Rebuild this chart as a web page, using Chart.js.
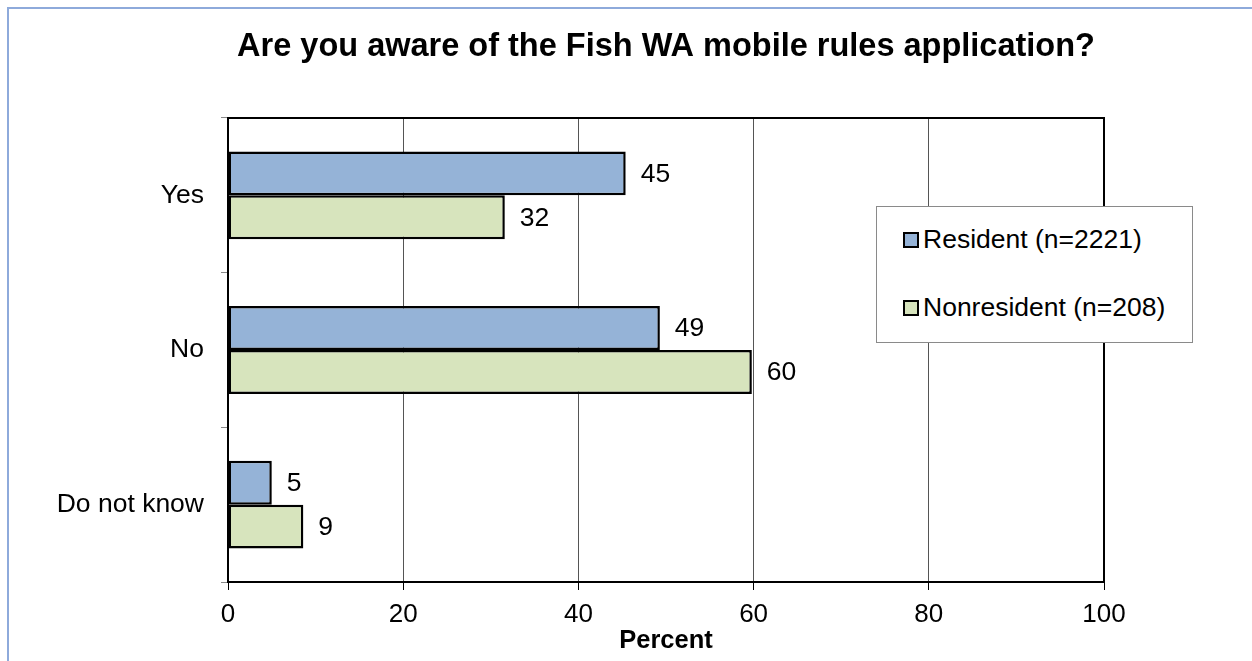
<!DOCTYPE html>
<html>
<head>
<meta charset="utf-8">
<script src="https://cdn.jsdelivr.net/npm/chart.js@4/dist/chart.umd.min.js"></script>
<style>
  html, body { margin: 0; padding: 0; background: #fff; overflow: hidden; }
  #wrap { position: relative; width: 1252px; height: 661px; }
  #frame {
    position: absolute; left: 7px; top: 7px; width: 1400px; height: 800px;
    border-left: 2px solid #8eaadb; border-top: 2px solid #8eaadb;
  }
  #chart { position: absolute; left: 0; top: 0; }
  #legend {
    position: absolute; left: 876px; top: 206px; width: 315px; height: 135px;
    border: 1.5px solid #8a8a8a; background: #fff;
    font-family: "Liberation Sans", Arial, sans-serif; font-size: 26.5px; color: #000;
  }
  .item { position: absolute; left: 26px; display: flex; align-items: center; white-space: nowrap; }
  .swatch { width: 12px; height: 12px; border: 2px solid #000; margin-right: 4px; }
</style>
</head>
<body>
<div id="wrap">
  <div id="frame"></div>
  <canvas id="chart" width="1252" height="661"></canvas>
  <div id="legend"></div>
</div>
<script>
// Data
const categories = ['Yes', 'No', 'Do not know'];
const residentValues = [45.4, 49.3, 5.0];
const nonresidentValues = [31.6, 59.8, 8.6];
const seriesLabels = ['Resident (n=2221)', 'Nonresident (n=208)'];
const seriesColours = ['#95b3d7', '#d7e4bd'];
const xMin = 0, xMax = 100, xStep = 20;

const FONT = '"Liberation Sans", Arial, sans-serif';
Chart.defaults.font.family = FONT;
Chart.defaults.color = '#000';

// value labels at the end of each bar
const valueLabels = {
  id: 'valueLabels',
  afterDatasetsDraw(chart) {
    const ctx = chart.ctx;
    ctx.save();
    ctx.font = '26.5px ' + FONT;
    ctx.fillStyle = '#000';
    ctx.textAlign = 'left';
    ctx.textBaseline = 'middle';
    chart.data.datasets.forEach((ds, i) => {
      chart.getDatasetMeta(i).data.forEach((bar, j) => {
        ctx.fillText(Math.round(ds.data[j]), bar.x + 15, bar.y + 1);
      });
    });
    ctx.restore();
  }
};

// top + right edge of the plot area
const plotFrame = {
  id: 'plotFrame',
  afterDraw(chart) {
    const { ctx, chartArea: a } = chart;
    ctx.save();
    ctx.strokeStyle = '#000';
    ctx.lineWidth = 2;
    ctx.beginPath();
    ctx.moveTo(a.left, a.top);
    ctx.lineTo(a.right, a.top);
    ctx.lineTo(a.right, a.bottom);
    ctx.stroke();
    ctx.restore();
  }
};

const chart = new Chart(document.getElementById('chart'), {
  type: 'bar',
  data: {
    labels: categories,
    datasets: [residentValues, nonresidentValues].map((vals, i) => ({
      label: seriesLabels[i],
      data: vals,
      backgroundColor: seriesColours[i],
      borderColor: '#000',
      borderWidth: 2.5,
      borderSkipped: false,
      categoryPercentage: 0.568,
      barPercentage: 1.0
    }))
  },
  options: {
    indexAxis: 'y',
    responsive: false,
    animation: false,
    layout: { padding: { left: 0, right: 148, top: 0, bottom: 0 } },
    plugins: {
      legend: { display: false },
      tooltip: { enabled: false },
      title: {
        display: true,
        fullSize: false,
        text: 'Are you aware of the Fish WA mobile rules application?',
        font: { size: 32.5, weight: 'bold' },
        color: '#000',
        padding: { top: 28, bottom: 51 }
      }
    },
    scales: {
      x: {
        min: xMin,
        max: xMax,
        afterFit: s => { s.height = 79; },
        ticks: { stepSize: xStep, font: { size: 26 }, padding: 9, color: '#000' },
        grid: { color: '#555', lineWidth: 1, tickLength: 8, tickColor: '#000' },
        border: { color: '#000', width: 2 },
        title: {
          display: true,
          text: 'Percent',
          font: { size: 25.5, weight: 'bold' },
          color: '#000',
          padding: { top: 0, bottom: 5 }
        }
      },
      y: {
        afterFit: s => { s.width = 228; },
        ticks: { font: { size: 26.5 }, padding: 17, color: '#000' },
        grid: { drawOnChartArea: false, tickLength: 7, color: '#888' },
        border: { color: '#000', width: 2 }
      }
    }
  },
  plugins: [valueLabels, plotFrame]
});

// legend box
const legend = document.getElementById('legend');
const rowTops = [17, 85];
chart.data.datasets.forEach((ds, i) => {
  const item = document.createElement('div');
  item.className = 'item';
  item.style.top = rowTops[i] + 'px';
  item.innerHTML = '<span class="swatch" style="background:' + ds.backgroundColor + '"></span>' + ds.label;
  legend.appendChild(item);
});
</script>
</body>
</html>
